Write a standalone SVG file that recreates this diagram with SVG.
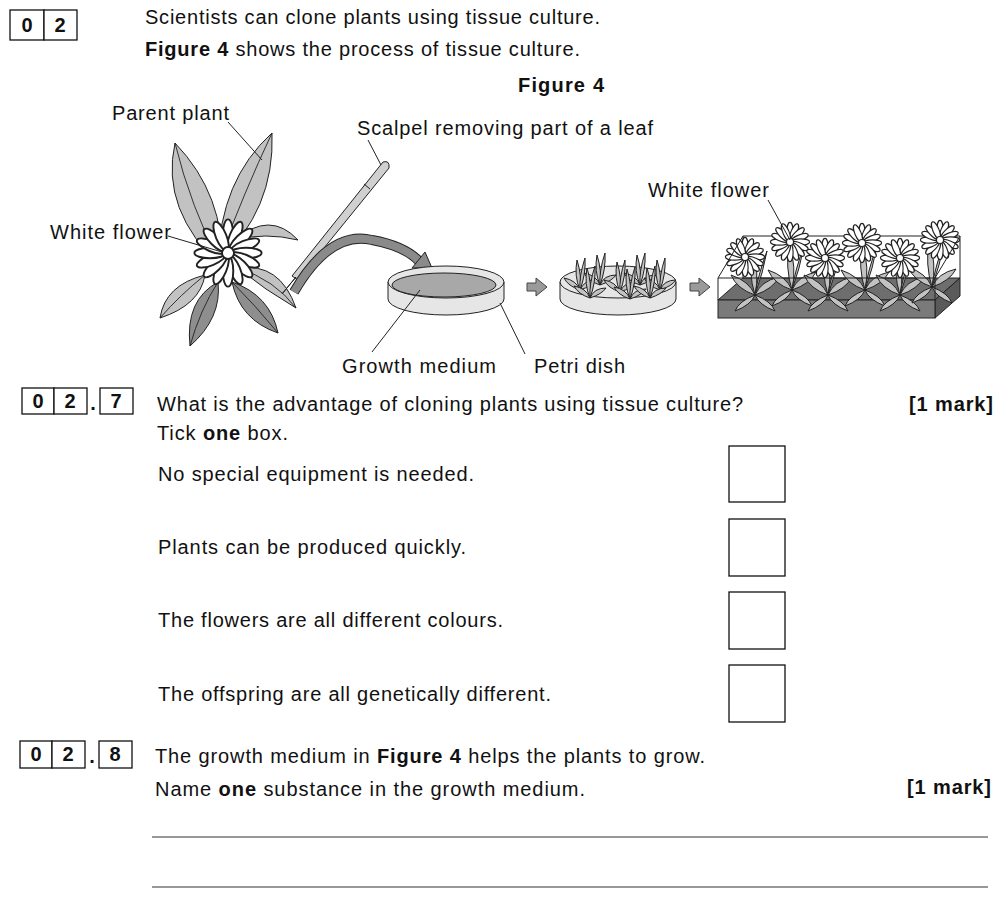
<svg xmlns="http://www.w3.org/2000/svg" xmlns:xlink="http://www.w3.org/1999/xlink" width="1000" height="899" viewBox="0 0 1000 899">
<style>
text{font-family:"Liberation Sans",Arial,sans-serif;font-size:20px;fill:#111}
.b{font-weight:bold}
.box{fill:#fff;stroke:#111;stroke-width:1.3}
.leaf{fill:#c2c2c2;stroke:#222;stroke-width:1}
.leafd{fill:#8e8e8e;stroke:#222;stroke-width:1}
.rib{fill:none;stroke:#222;stroke-width:0.9}
.ptr{fill:none;stroke:#222;stroke-width:1}
.pet{fill:#fff;stroke:#222;stroke-width:0.8}
.rule{stroke:#333;stroke-width:1}
</style>
<defs>
<ellipse id="p" cx="0" cy="-7.5" rx="2.2" ry="6.5"/>
<g id="fl">
<g class="pet">
<use xlink:href="#p"/><use xlink:href="#p" transform="rotate(22.5)"/><use xlink:href="#p" transform="rotate(45)"/><use xlink:href="#p" transform="rotate(67.5)"/><use xlink:href="#p" transform="rotate(90)"/><use xlink:href="#p" transform="rotate(112.5)"/><use xlink:href="#p" transform="rotate(135)"/><use xlink:href="#p" transform="rotate(157.5)"/><use xlink:href="#p" transform="rotate(180)"/><use xlink:href="#p" transform="rotate(202.5)"/><use xlink:href="#p" transform="rotate(225)"/><use xlink:href="#p" transform="rotate(247.5)"/><use xlink:href="#p" transform="rotate(270)"/><use xlink:href="#p" transform="rotate(292.5)"/><use xlink:href="#p" transform="rotate(315)"/><use xlink:href="#p" transform="rotate(337.5)"/>
<circle r="2.5"/></g>
</g>
<g id="sprout">
<path class="leaf" d="M0 0 Q-6 -14 -3 -30 Q2 -14 0 0Z"/>
<path class="leaf" d="M0 0 Q6 -16 5 -32 Q-1 -14 0 0Z"/>
<path class="leaf" d="M0 0 Q-12 -4 -16 -12 Q-4 -10 0 0Z"/>
<path class="leaf" d="M0 0 Q12 -4 16 -10 Q4 -10 0 0Z"/>
</g>
<g id="tplant">
<path class="leaf" d="M0 0 Q-7 -22 -3 -48 Q5 -22 0 0Z"/>
<path class="leaf" d="M0 0 Q8 -22 12 -44 Q3 -20 0 0Z"/>
<path class="leaf" d="M0 0 Q-18 -6 -24 -20 Q-6 -14 0 0Z"/>
<path class="leaf" d="M0 0 Q18 -6 24 -18 Q6 -14 0 0Z"/>
<path class="leaf" d="M0 0 Q-16 6 -20 16 Q-4 10 0 0Z"/>
<path class="leaf" d="M0 0 Q16 6 20 16 Q4 10 0 0Z"/>
</g>
<g id="dish">
<path d="M-58 0 L-58 17 A58 16 0 0 0 58 17 L58 0" fill="#e6e6e6" stroke="#222" stroke-width="1"/>
<ellipse rx="58" ry="16" fill="#e6e6e6" stroke="#222" stroke-width="1"/>
</g>
<path id="harr" d="M0 -4 L9 -4 L9 -9 L20 0 L9 9 L9 4 L0 4Z" fill="#9a9a9a" stroke="#444" stroke-width="1"/>
</defs>

<g id="q02">
<rect class="box" x="10" y="10" width="34" height="30"/><rect class="box" x="44" y="10" width="33" height="30"/>
<text class="b" x="27" y="32" text-anchor="middle">0</text><text class="b" x="60" y="32" text-anchor="middle">2</text>
<text x="145" y="24" textLength="455">Scientists can clone plants using tissue culture.</text>
<text x="145" y="56" textLength="435"><tspan class="b">Figure 4</tspan> shows the process of tissue culture.</text>
<text class="b" x="518" y="92" textLength="86">Figure 4</text>
</g>

<g id="figure">
<g id="parent-plant">
<path class="leaf" d="M222 268 Q160 210 175 143 Q225 195 222 268Z"/><path class="rib" d="M222 268 Q190 205 175 143"/>
<path class="leaf" d="M218 262 Q220 180 272 133 Q275 210 218 262Z"/><path class="rib" d="M218 262 Q245 190 272 133"/>
<path class="leaf" d="M235 240 Q270 210 298 240 Q265 232 235 240Z"/>
<path class="leaf" d="M238 268 Q280 262 296 308 Q265 290 238 268Z"/><path class="rib" d="M238 268 Q275 280 296 308"/>
<path class="leaf" d="M205 275 Q165 285 160 318 Q200 305 205 275Z"/><path class="rib" d="M205 275 Q180 295 160 318"/>
<path class="leafd" d="M218 282 Q185 300 190 346 Q222 318 218 282Z"/><path class="rib" d="M218 282 Q200 310 190 346"/>
<path class="leafd" d="M232 282 Q240 320 278 333 Q270 295 232 282Z"/><path class="rib" d="M232 282 Q255 305 278 333"/>
<use xlink:href="#fl" transform="translate(228 253) scale(2.4)"/>
</g>
<g id="scalpel">
<path d="M383 162 Q390 160 389 168 L298 280 L292 276Z" fill="#d0d0d0" stroke="#222" stroke-width="1"/>
<path d="M296 277 L282 294 L291 283Z" fill="#fff" stroke="#222" stroke-width="1"/>
<line x1="364" y1="184" x2="370" y2="189" stroke="#222"/>
</g>
<g id="curve-arrow">
<path d="M294 292 Q330 230 372 240 Q405 246 420 262" fill="none" stroke="#222" stroke-width="10"/>
<path d="M294 292 Q330 230 372 240 Q405 246 420 262" fill="none" stroke="#8a8a8a" stroke-width="8"/>
<path d="M412 268 L432 268 L425 252Z" fill="#8a8a8a" stroke="#222" stroke-width="1"/>
</g>
<g id="petri1">
<use xlink:href="#dish" transform="translate(446 282)"/>
<ellipse cx="444" cy="285" rx="52" ry="12" fill="#a8a8a8" stroke="#222" stroke-width="1"/>
</g>
<use xlink:href="#harr" transform="translate(527 287)"/>
<g id="petri2">
<use xlink:href="#dish" transform="translate(618 282)"/>
<use xlink:href="#sprout" transform="translate(580 290)"/><use xlink:href="#sprout" transform="translate(600 285)"/>
<use xlink:href="#sprout" transform="translate(620 292)"/><use xlink:href="#sprout" transform="translate(640 285)"/>
<use xlink:href="#sprout" transform="translate(660 290)"/><use xlink:href="#sprout" transform="translate(590 298)"/>
<use xlink:href="#sprout" transform="translate(630 299)"/><use xlink:href="#sprout" transform="translate(650 298)"/>
</g>
<use xlink:href="#harr" transform="translate(690 287)"/>
<g id="tray">
<path d="M718 300 L743 278 L960 278 L935 300Z" fill="#6e6e6e" stroke="#222"/>
<path d="M935 300 L960 278 L960 296 L935 318Z" fill="#5a5a5a" stroke="#222"/>
<rect x="718" y="300" width="217" height="18" fill="#7a7a7a" stroke="#222"/>
<path d="M743 278 L743 236 L960 236 L960 278" fill="none" stroke="#222"/>
<use xlink:href="#tplant" transform="translate(755 295)"/><use xlink:href="#tplant" transform="translate(792 290)"/>
<use xlink:href="#tplant" transform="translate(828 295)"/><use xlink:href="#tplant" transform="translate(865 290)"/>
<use xlink:href="#tplant" transform="translate(900 295)"/><use xlink:href="#tplant" transform="translate(932 287)"/>
<use xlink:href="#fl" transform="translate(745 257) scale(1.4)"/><use xlink:href="#fl" transform="translate(790 242) scale(1.4)"/>
<use xlink:href="#fl" transform="translate(825 258) scale(1.4)"/><use xlink:href="#fl" transform="translate(862 243) scale(1.4)"/>
<use xlink:href="#fl" transform="translate(900 258) scale(1.4)"/><use xlink:href="#fl" transform="translate(940 240) scale(1.4)"/>
<path d="M718 300 L718 278 L935 278 L935 300 M718 278 L743 236 M935 278 L960 236" fill="none" stroke="#222"/>
</g>
<g id="labels">
<text x="112" y="120" textLength="117">Parent plant</text><path class="ptr" d="M228 122 L262 160"/>
<text x="357" y="135" textLength="296">Scalpel removing part of a leaf</text><path class="ptr" d="M368 140 L381 165"/>
<text x="50" y="239" textLength="121">White flower</text><path class="ptr" d="M168 236 L222 252"/>
<text x="648" y="197" textLength="121">White flower</text><path class="ptr" d="M768 200 L790 240"/>
<text x="342" y="373" textLength="154">Growth medium</text><path class="ptr" d="M372 352 L420 290"/>
<text x="534" y="373" textLength="91">Petri dish</text><path class="ptr" d="M525 354 L500 303"/>
</g>
</g>

<g id="q027">
<rect class="box" x="22" y="388" width="32" height="26"/><rect class="box" x="54" y="388" width="33" height="26"/>
<rect class="box" x="100" y="388" width="33" height="26"/>
<text class="b" x="38" y="408" text-anchor="middle">0</text><text class="b" x="70" y="408" text-anchor="middle">2</text>
<text class="b" x="93" y="410" text-anchor="middle">.</text><text class="b" x="116" y="408" text-anchor="middle">7</text>
<text x="157" y="411" textLength="586">What is the advantage of cloning plants using tissue culture?</text>
<text class="b" x="909" y="411" textLength="84">[1 mark]</text>
<text x="157" y="440" textLength="131">Tick <tspan class="b">one</tspan> box.</text>
<text x="158" y="481" textLength="316">No special equipment is needed.</text>
<text x="158" y="554" textLength="308">Plants can be produced quickly.</text>
<text x="158" y="627" textLength="345">The flowers are all different colours.</text>
<text x="158" y="701" textLength="393">The offspring are all genetically different.</text>
<rect class="box" x="729" y="446" width="56" height="56"/>
<rect class="box" x="729" y="519" width="56" height="57"/>
<rect class="box" x="729" y="592" width="56" height="57"/>
<rect class="box" x="729" y="665" width="56" height="57"/>
</g>

<g id="q028">
<rect class="box" x="20" y="741" width="32" height="27"/><rect class="box" x="52" y="741" width="33" height="27"/>
<rect class="box" x="99" y="741" width="33" height="27"/>
<text class="b" x="36" y="761" text-anchor="middle">0</text><text class="b" x="68" y="761" text-anchor="middle">2</text>
<text class="b" x="92" y="763" text-anchor="middle">.</text><text class="b" x="115" y="761" text-anchor="middle">8</text>
<text x="155" y="763" textLength="550">The growth medium in <tspan class="b">Figure 4</tspan> helps the plants to grow.</text>
<text x="155" y="796" textLength="430">Name <tspan class="b">one</tspan> substance in the growth medium.</text>
<text class="b" x="907" y="794" textLength="84">[1 mark]</text>
<line class="rule" x1="152" y1="837" x2="988" y2="837"/>
<line class="rule" x1="152" y1="887" x2="988" y2="887"/>
</g>
</svg>
